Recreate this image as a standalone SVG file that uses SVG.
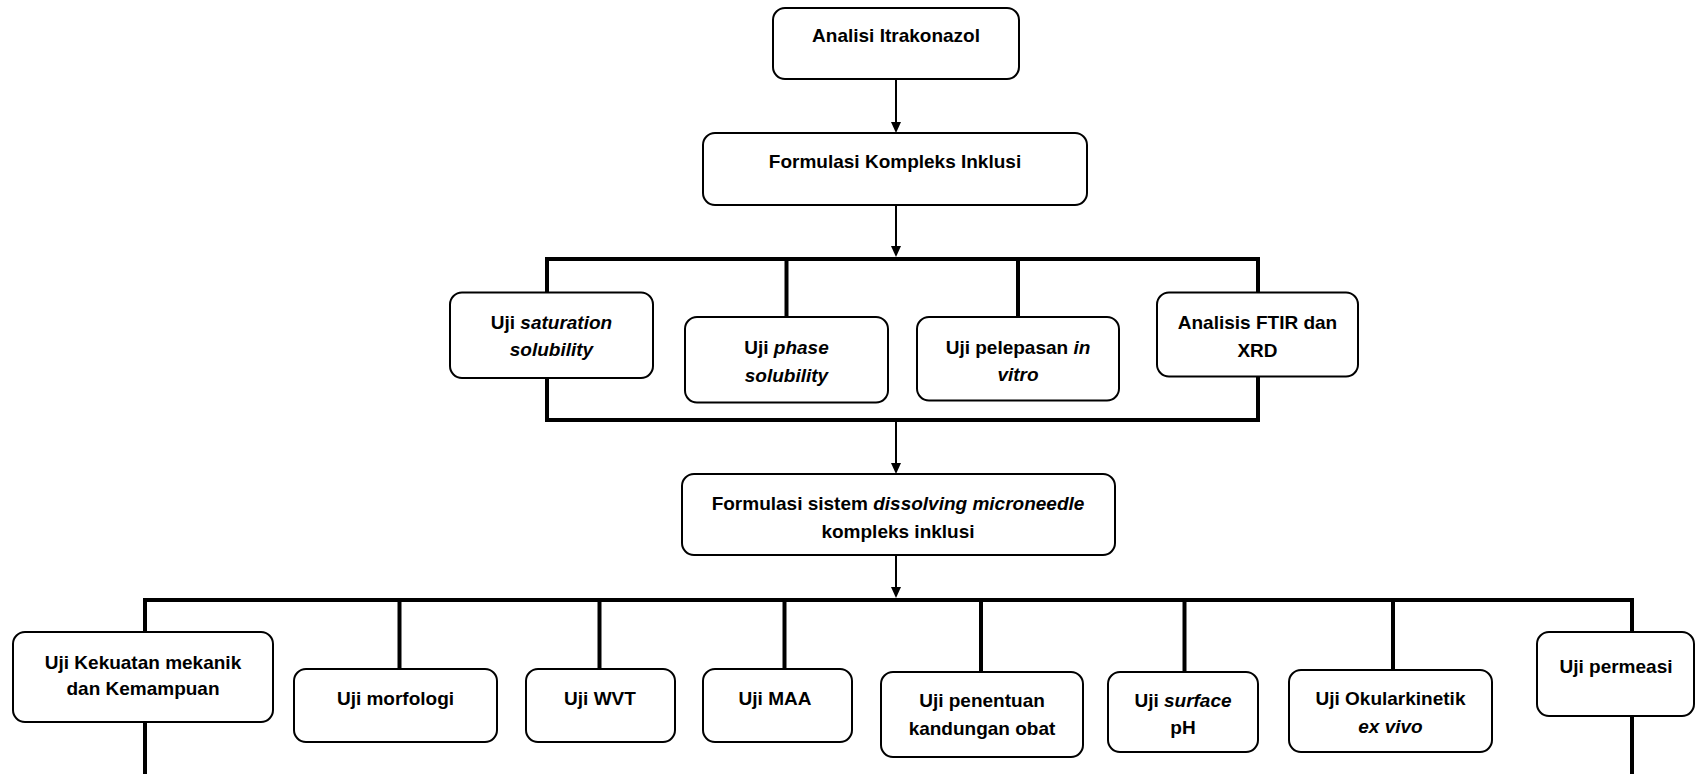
<svg xmlns="http://www.w3.org/2000/svg" width="1695" height="774" viewBox="0 0 1695 774">
<style>
.box{fill:#fff;stroke:#000;stroke-width:2}
.t{font-family:"Liberation Sans",Arial,sans-serif;font-weight:bold;font-size:19px;fill:#000;text-anchor:middle}
.i{font-style:italic}
.br{fill:none;stroke:#000;stroke-width:4}
.ar{fill:none;stroke:#000;stroke-width:2}
</style>
<defs>
<marker id="ah" markerUnits="userSpaceOnUse" markerWidth="10" markerHeight="11" refX="5" refY="11" orient="auto-start-reverse" viewBox="0 0 10 11">
<path d="M0,0 L10,0 L5,11 Z" fill="#000"/>
</marker>
</defs>
<rect width="1695" height="774" fill="#fff"/>
<g id="connectors">
<line class="ar" x1="896" y1="79" x2="896" y2="123"/>
<path d="M891,122 L901,122 L896,133 Z" fill="#000"/>
<line class="ar" x1="896" y1="205" x2="896" y2="247"/>
<path d="M891,246 L901,246 L896,257 Z" fill="#000"/>
<path class="br" d="M547,420 V259 H1258 V420 Z"/>
<line class="br" x1="786.5" y1="259" x2="786.5" y2="317"/>
<line class="br" x1="1018" y1="259" x2="1018" y2="317"/>
<line class="ar" x1="896" y1="422" x2="896" y2="464"/>
<path d="M891,463 L901,463 L896,474 Z" fill="#000"/>
<line class="ar" x1="896" y1="555" x2="896" y2="588"/>
<path d="M891,587 L901,587 L896,598 Z" fill="#000"/>
<path class="br" d="M145,774 V600 H1632 V774"/>
<line class="br" x1="399.5" y1="600" x2="399.5" y2="669"/>
<line class="br" x1="599.5" y1="600" x2="599.5" y2="669"/>
<line class="br" x1="784.5" y1="600" x2="784.5" y2="669"/>
<line class="br" x1="981" y1="600" x2="981" y2="672"/>
<line class="br" x1="1184.5" y1="600" x2="1184.5" y2="672"/>
<line class="br" x1="1393" y1="600" x2="1393" y2="670"/>
</g>
<g id="n1"><rect class="box" x="773" y="8" width="246" height="71" rx="12"/><text class="t" x="896" y="42">Analisi Itrakonazol</text></g>
<g id="n2"><rect class="box" x="703" y="133" width="384" height="72" rx="12"/><text class="t" x="895" y="168">Formulasi Kompleks Inklusi</text></g>
<g id="n3"><rect class="box" x="450" y="292.5" width="203" height="85.5" rx="12"/><text class="t" x="551.5" y="328.5">Uji <tspan class="i">saturation</tspan></text><text class="t i" x="551.5" y="356">solubility</text></g>
<g id="n4"><rect class="box" x="685" y="317" width="203" height="85.5" rx="12"/><text class="t" x="786.5" y="353.5">Uji <tspan class="i">phase</tspan></text><text class="t i" x="786.5" y="382">solubility</text></g>
<g id="n5"><rect class="box" x="917" y="317" width="202" height="83.5" rx="12"/><text class="t" x="1018" y="353.5">Uji pelepasan <tspan class="i">in</tspan></text><text class="t i" x="1018" y="381">vitro</text></g>
<g id="n6"><rect class="box" x="1157" y="292.5" width="201" height="84" rx="12"/><text class="t" x="1257.5" y="328.5">Analisis FTIR dan</text><text class="t" x="1257.5" y="357">XRD</text></g>
<g id="n7"><rect class="box" x="682" y="474" width="433" height="81" rx="12"/><text class="t" x="898" y="510">Formulasi sistem <tspan class="i">dissolving microneedle</tspan></text><text class="t" x="898" y="538">kompleks inklusi</text></g>
<g id="n8"><rect class="box" x="13" y="632" width="260" height="90" rx="12"/><text class="t" x="143" y="668.5">Uji Kekuatan mekanik</text><text class="t" x="143" y="695">dan Kemampuan</text></g>
<g id="n9"><rect class="box" x="294" y="669" width="203" height="73" rx="12"/><text class="t" x="395.5" y="705">Uji morfologi</text></g>
<g id="n10"><rect class="box" x="526" y="669" width="149" height="73" rx="12"/><text class="t" x="600" y="705">Uji WVT</text></g>
<g id="n11"><rect class="box" x="703" y="669" width="149" height="73" rx="12"/><text class="t" x="775" y="705">Uji MAA</text></g>
<g id="n12"><rect class="box" x="881" y="672" width="202" height="85" rx="12"/><text class="t" x="982" y="707">Uji penentuan</text><text class="t" x="982" y="735">kandungan obat</text></g>
<g id="n13"><rect class="box" x="1108" y="672" width="150" height="80" rx="12"/><text class="t" x="1183" y="707">Uji <tspan class="i">surface</tspan></text><text class="t" x="1183" y="734">pH</text></g>
<g id="n14"><rect class="box" x="1289" y="670" width="203" height="82" rx="12"/><text class="t" x="1390.5" y="705">Uji Okularkinetik</text><text class="t i" x="1390.5" y="733">ex vivo</text></g>
<g id="n15"><rect class="box" x="1537" y="632" width="157" height="84" rx="12"/><text class="t" x="1616" y="673">Uji permeasi</text></g>
</svg>
